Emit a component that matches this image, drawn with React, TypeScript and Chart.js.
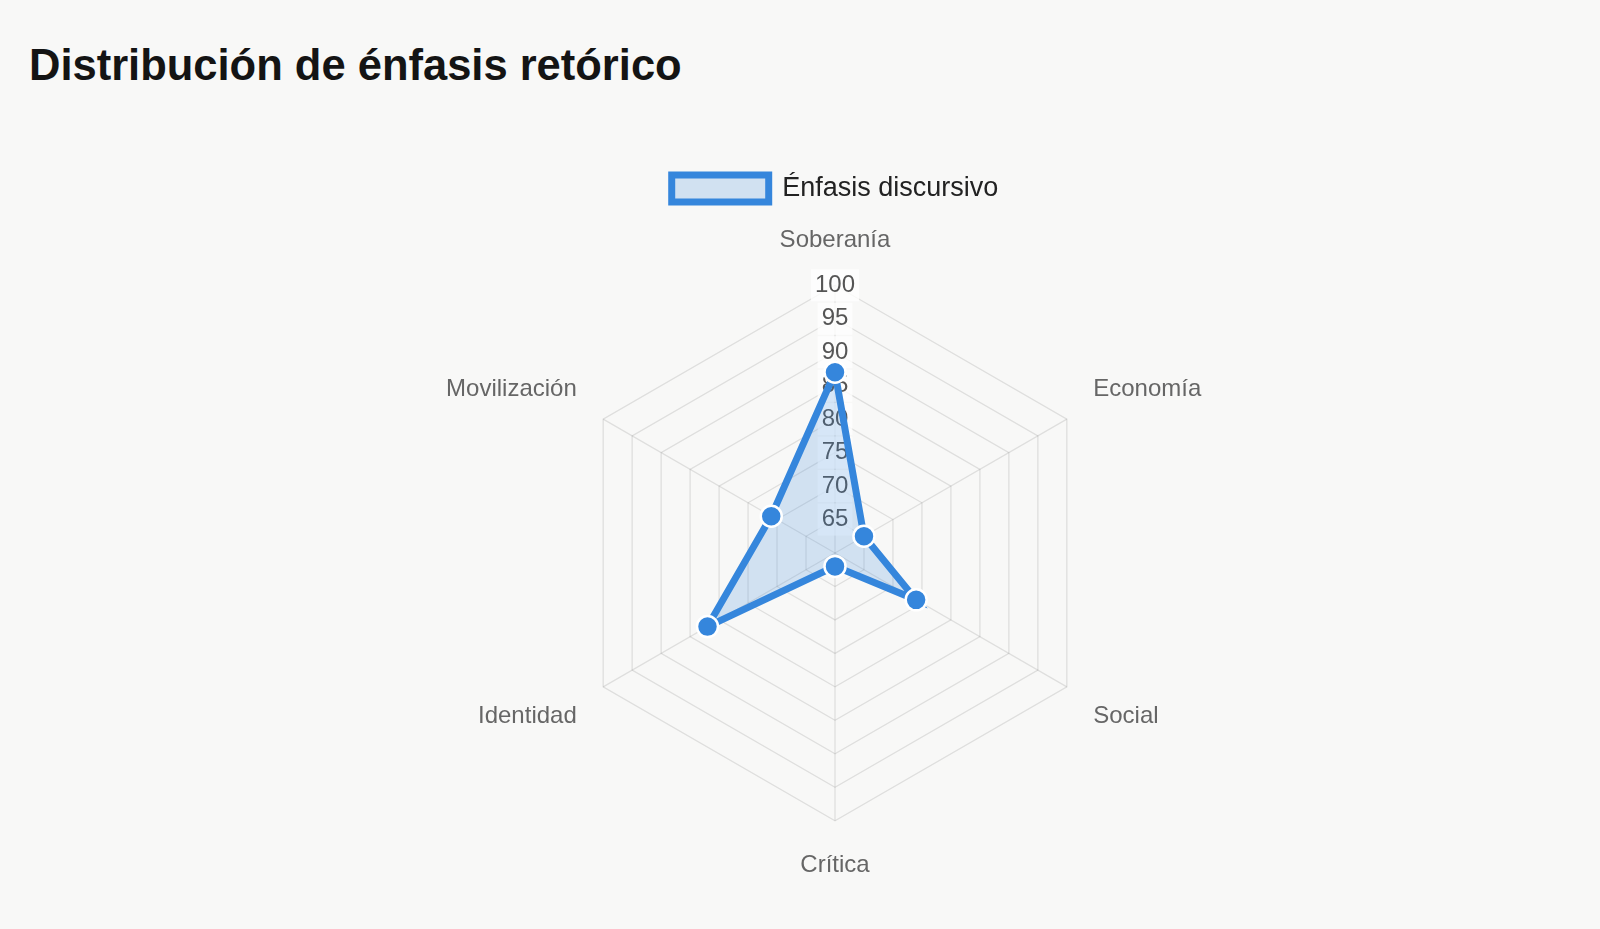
import React, { useEffect, useRef } from "react";
import { Chart, registerables } from "chart.js";

Chart.register(...registerables);

const title = "Distribución de énfasis retórico";
const categories = ["Soberanía", "Economía", "Social", "Crítica", "Identidad", "Movilización"];
const seriesLabel = "Énfasis discursivo";
const seriesValues = [87, 65, 74, 62, 82, 71];
const scaleMin = 60;
const scaleMax = 100;
const scaleStep = 5;

const legendSpacer = {
  id: "legendSpacer",
  beforeInit(chart: any) {
    const legend = chart.legend;
    if (!legend) return;
    const origFit = legend.fit;
    legend.fit = function fit() {
      origFit.call(this);
      this.height += 14;
    };
  },
};

export default function App() {
  const canvasRef = useRef<HTMLCanvasElement | null>(null);

  useEffect(() => {
    if (!canvasRef.current) return;
    const blue = "#3586dc";
    const chart = new Chart(canvasRef.current, {
      type: "radar",
      data: {
        labels: categories,
        datasets: [
          {
            label: seriesLabel,
            data: seriesValues,
            borderColor: blue,
            backgroundColor: "rgba(53,134,220,0.2)",
            borderWidth: 7,
            fill: true,
            pointRadius: 10.5,
            pointHoverRadius: 10.5,
            pointBackgroundColor: blue,
            pointBorderColor: "#ffffff",
            pointBorderWidth: 2.5,
          },
        ],
      },
      options: {
        animation: false,
        responsive: true,
        maintainAspectRatio: false,
        plugins: {
          legend: {
            display: true,
            position: "top",
            labels: {
              boxWidth: 97,
              padding: 20,
              color: "#222222",
              font: { size: 27, family: "'Liberation Sans', Arial, sans-serif" },
            },
          },
          tooltip: { enabled: false },
        },
        scales: {
          r: {
            min: scaleMin,
            max: scaleMax,
            ticks: {
              stepSize: scaleStep,
              color: "#555555",
              font: { size: 24, family: "'Liberation Sans', Arial, sans-serif" },
              backdropColor: "rgba(255,255,255,0.75)",
              backdropPadding: 4,
            },
            pointLabels: {
              color: "#666666",
              padding: 14.5,
              font: { size: 24, family: "'Liberation Sans', Arial, sans-serif" },
            },
            grid: { color: "rgba(0,0,0,0.1)", lineWidth: 1.3 },
            angleLines: { color: "rgba(0,0,0,0.1)", lineWidth: 1.3 },
          },
        },
      },
      plugins: [legendSpacer],
    });
    return () => chart.destroy();
  }, []);

  return (
    <div
      style={{
        position: "fixed",
        inset: 0,
        background: "#f8f8f7",
        overflow: "hidden",
      }}
    >
      <div
        style={{
          position: "absolute",
          left: 29,
          top: 44,
          fontFamily: "'Liberation Sans', Arial, sans-serif",
          fontWeight: 700,
          fontSize: 43.5,
          lineHeight: "43px",
          color: "#141414",
          whiteSpace: "nowrap",
        }}
      >
        {title}
      </div>
      <div
        style={{
          position: "absolute",
          left: 70,
          top: 155,
          width: 1530,
          height: 725,
        }}
      >
        <canvas ref={canvasRef} style={{ display: "block" }} />
      </div>
    </div>
  );
}
